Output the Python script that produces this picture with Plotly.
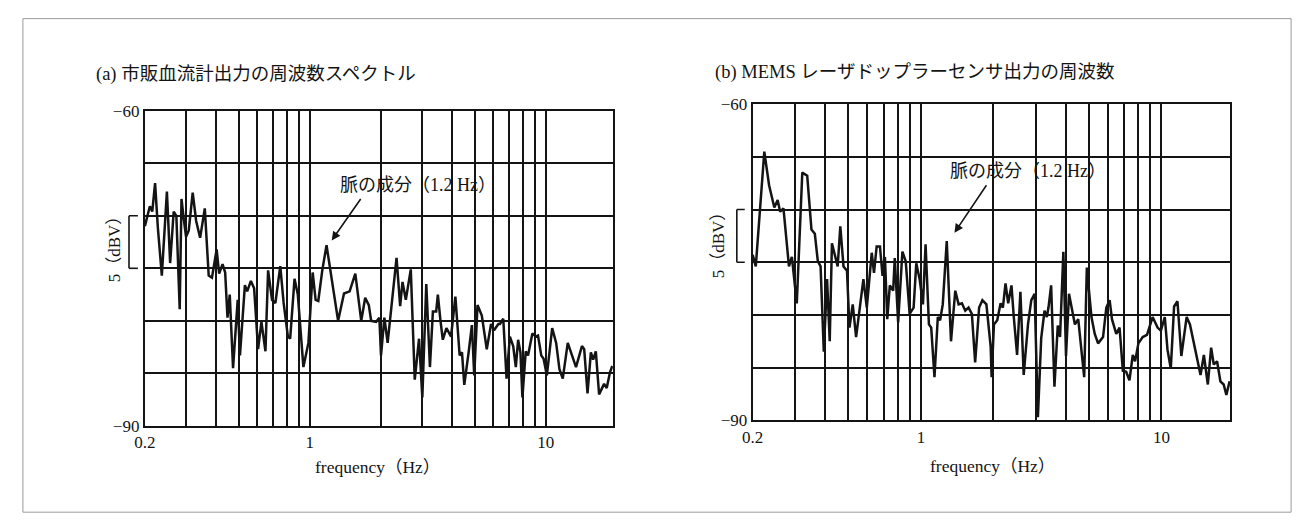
import numpy as np
import plotly.graph_objects as go

# ---------------- data ----------------
freq_a = [0.200, 0.2045, 0.210, 0.215, 0.221, 0.227, 0.236, 0.248, 0.256, 0.265,
          0.272, 0.281, 0.286, 0.292, 0.299, 0.307, 0.319, 0.330, 0.343, 0.359,
          0.373, 0.385, 0.403, 0.413, 0.427, 0.438, 0.448, 0.458, 0.473, 0.495,
          0.506, 0.531, 0.543, 0.563, 0.581, 0.604, 0.624, 0.649, 0.666, 0.692,
          0.715, 0.750, 0.775, 0.808, 0.826, 0.862, 0.890, 0.940, 0.987, 1.029,
          1.059, 1.087, 1.130, 1.178, 1.245, 1.319, 1.397, 1.476, 1.560, 1.653,
          1.718, 1.780, 1.821, 1.911, 1.973, 2.005, 2.072, 2.139, 2.223, 2.333,
          2.417, 2.473, 2.554, 2.681, 2.787, 2.906, 3.001, 3.119, 3.232, 3.327,
          3.436, 3.492, 3.583, 3.665, 3.797, 3.972, 4.143, 4.320, 4.419, 4.520,
          4.715, 4.869, 4.980, 5.143, 5.363, 5.629, 5.870, 6.043, 6.302, 6.402,
          6.612, 6.829, 7.053, 7.284, 7.474, 7.645, 7.819, 7.972, 8.233, 8.421,
          8.784, 9.072, 9.279, 9.583, 9.802, 10.12, 10.66, 11.08, 11.44, 11.82,
          12.41, 12.93, 13.45, 14.25, 14.57, 15.05, 15.55, 15.90, 16.32, 16.85,
          17.29, 17.69, 18.15, 18.74, 19.17]
db_a = [-71.0, -70.0, -69.1, -69.6, -66.9, -71.1, -75.7, -67.7, -74.5, -69.6,
        -70.0, -78.9, -68.4, -70.2, -72.0, -71.4, -67.8, -70.5, -72.1, -69.3,
        -75.7, -75.9, -73.2, -75.5, -74.6, -75.4, -79.7, -77.5, -84.5, -78.0,
        -83.3, -76.6, -77.2, -76.2, -76.9, -82.7, -80.1, -82.9, -75.2, -78.0,
        -78.3, -74.8, -78.3, -81.5, -81.7, -76.0, -77.5, -84.4, -82.1, -75.4,
        -78.0, -78.1, -75.2, -72.8, -76.3, -80.0, -77.4, -77.2, -75.5, -80.0,
        -77.8, -78.5, -80.0, -80.1, -79.7, -83.3, -79.7, -82.1, -78.5, -74.0,
        -78.6, -76.3, -78.0, -75.1, -85.6, -81.7, -87.3, -76.5, -84.4, -79.1,
        -79.1, -77.5, -80.0, -81.8, -80.7, -81.5, -77.7, -83.3, -83.0, -86.1,
        -83.0, -80.4, -85.2, -78.5, -79.5, -82.7, -80.3, -80.9, -80.3, -80.3,
        -79.8, -85.5, -81.5, -82.4, -84.4, -81.8, -83.0, -87.3, -82.9, -83.3,
        -81.2, -81.5, -81.4, -83.3, -83.6, -85.2, -80.7, -82.1, -84.6, -85.5,
        -82.1, -83.3, -84.4, -82.4, -82.7, -86.9, -83.0, -83.7, -82.9, -87.0,
        -86.4, -86.0, -86.4, -84.9, -84.3]

freq_b = [0.200, 0.206, 0.2235, 0.234, 0.246, 0.254, 0.260, 0.2685, 0.283, 0.291,
          0.305, 0.3215, 0.337, 0.351, 0.3625, 0.373, 0.383, 0.395, 0.4075, 0.418,
          0.427, 0.451, 0.4625, 0.477, 0.493, 0.505, 0.521, 0.538, 0.577, 0.596,
          0.625, 0.6385, 0.655, 0.676, 0.693, 0.709, 0.725, 0.743, 0.767, 0.779,
          0.8045, 0.838, 0.865, 0.898, 0.933, 0.957, 0.988, 1.020, 1.046, 1.080,
          1.104, 1.139, 1.176, 1.202, 1.233, 1.281, 1.334, 1.390, 1.435, 1.481,
          1.529, 1.578, 1.629, 1.681, 1.746, 1.802, 1.872, 1.950, 1.968, 2.012,
          2.077, 2.144, 2.192, 2.248, 2.306, 2.380, 2.433, 2.511, 2.592, 2.675,
          2.787, 2.877, 2.970, 3.064, 3.163, 3.265, 3.338, 3.391, 3.478, 3.590,
          3.706, 3.788, 3.910, 4.010, 4.126, 4.258, 4.367, 4.508, 4.624, 4.772,
          4.894, 5.116, 5.280, 5.450, 5.715, 5.898, 6.088, 6.225, 6.486, 6.694,
          6.909, 7.131, 7.360, 7.597, 7.768, 8.017, 8.353, 8.704, 9.184, 9.632,
          9.941, 10.32, 10.59, 10.93, 11.28, 11.65, 12.09, 12.72, 13.13, 13.64,
          14.08, 14.53, 15.00, 15.58, 16.08, 16.49, 17.02, 17.57, 18.13, 18.60, 19.19]
db_b = [-74.3, -75.4, -64.5, -67.7, -69.8, -69.1, -70.2, -69.9, -75.4, -74.5,
        -78.9, -66.5, -66.8, -71.9, -72.3, -74.9, -75.4, -83.5, -76.6, -82.5,
        -73.2, -75.4, -71.6, -75.4, -75.8, -81.2, -79.0, -82.1, -76.6, -79.3,
        -74.1, -76.0, -73.5, -73.5, -76.3, -74.5, -80.4, -77.2, -77.7, -74.6,
        -80.7, -74.0, -74.9, -79.9, -79.3, -75.1, -76.6, -79.0, -73.3, -80.9,
        -81.2, -85.9, -80.2, -80.5, -79.0, -73.0, -82.5, -77.7, -79.0, -78.9,
        -79.6, -79.3, -79.9, -84.5, -79.3, -78.6, -79.0, -83.0, -85.9, -80.9,
        -80.5, -78.9, -79.3, -77.0, -78.9, -77.2, -80.2, -83.8, -77.8, -85.7,
        -80.9, -78.6, -78.0, -89.7, -82.2, -79.6, -80.2, -79.3, -77.2, -86.8,
        -81.0, -82.1, -74.0, -83.9, -78.0, -79.6, -80.9, -80.4, -83.0, -85.9,
        -75.5, -80.2, -81.8, -82.7, -82.1, -79.3, -78.6, -80.4, -81.8, -81.2,
        -85.3, -85.4, -86.2, -83.8, -84.4, -82.7, -82.1, -81.9, -80.2, -81.2,
        -81.5, -80.2, -83.3, -85.1, -79.2, -78.7, -83.9, -80.2, -80.9, -82.7,
        -83.9, -85.7, -83.8, -86.6, -83.1, -84.7, -84.4, -86.3, -86.6, -87.6, -86.3]

x_tickvals = [0.2, 0.3, 0.4, 0.5, 0.6, 0.7, 0.8, 0.9, 1, 2, 3, 4, 5, 6, 7, 8, 9, 10]
x_labels = {0.2: "0.2", 1: "1", 10: "10"}
x_ticktext = [x_labels.get(v, "") for v in x_tickvals]
y_tickvals = [-90, -85, -80, -75, -70, -65, -60]
y_ticktext = ["\u221290", "", "", "", "", "", "\u221260"]

title_a = "(a) 市販血流計出力の周波数スペクトル"
title_b = "(b) MEMS レーザドップラーセンサ出力の周波数"
pulse_label = "脈の成分（1.2 Hz）"
x_title = "frequency（Hz）"
y_title = "5（dBV）"

# ---------------- figure ----------------
W, H = 1303, 527
SERIF = "Liberation Serif, Noto Sans CJK JP, serif"
INK = "#141414"


def px(x):
    return x / W


def py(y):
    return 1 - y / H


fig = go.Figure()
fig.add_trace(go.Scatter(x=freq_a, y=db_a, mode="lines", xaxis="x", yaxis="y",
                         line=dict(color=INK, width=2.5), showlegend=False, hoverinfo="skip"))
fig.add_trace(go.Scatter(x=freq_b, y=db_b, mode="lines", xaxis="x2", yaxis="y2",
                         line=dict(color=INK, width=2.5), showlegend=False, hoverinfo="skip"))

common = dict(showgrid=True, gridcolor=INK, gridwidth=1.9, showline=True, linecolor=INK,
              linewidth=2, mirror=True, zeroline=False, ticks="",
              tickfont=dict(family=SERIF, size=17, color=INK), fixedrange=True)

fig.update_layout(
    width=W, height=H, margin=dict(l=0, r=0, t=0, b=0),
    paper_bgcolor="white", plot_bgcolor="white", showlegend=False,
    xaxis=dict(type="log", range=[np.log10(0.2), 1.285], domain=[px(135), px(607)], anchor="y",
               tickvals=x_tickvals, ticktext=x_ticktext, **common),
    yaxis=dict(range=[-90, -60], domain=[py(432.5), py(105.5)], anchor="x",
               tickvals=y_tickvals, ticktext=y_ticktext, **common),
    xaxis2=dict(type="log", range=[np.log10(0.2), 1.286], domain=[px(748), px(1229.7)], anchor="y2",
                tickvals=x_tickvals, ticktext=x_ticktext, **common),
    yaxis2=dict(range=[-90, -60], domain=[py(426.7), py(98.7)], anchor="x2",
                tickvals=y_tickvals, ticktext=y_ticktext, **common),
)

ann = []
font_lbl = dict(family=SERIF, size=17, color=INK)
font_ttl = dict(family=SERIF, size=18.5, color=INK)
font_ax = dict(family=SERIF, size=17.5, color=INK)
font_pulse = dict(family=SERIF, size=18, color=INK)
# panel titles
ann.append(dict(xref="paper", yref="paper", x=px(84), y=py(68), text=title_a, showarrow=False,
                xanchor="left", yanchor="middle", font=font_ttl))
ann.append(dict(xref="paper", yref="paper", x=px(708), y=py(66), text=title_b, showarrow=False,
                xanchor="left", yanchor="middle", font=font_ttl))
# axis titles
ann.append(dict(xref="paper", yref="paper", x=px(370), y=py(475), text=x_title, showarrow=False,
                xanchor="center", yanchor="middle", font=font_ax))
ann.append(dict(xref="paper", yref="paper", x=px(990), y=py(474), text=x_title, showarrow=False,
                xanchor="center", yanchor="middle", font=font_ax))
ann.append(dict(xref="paper", yref="paper", x=px(104), y=py(245), text=y_title, showarrow=False,
                textangle=-90, xanchor="center", yanchor="middle", font=font_lbl))
ann.append(dict(xref="paper", yref="paper", x=px(713), y=py(240), text=y_title, showarrow=False,
                textangle=-90, xanchor="center", yanchor="middle", font=font_lbl))

# pulse-component arrows, pointed at the spectral peak near 1.2 Hz
for fr, db, xa, ya, dx, dy, axp, ayp, tx, ty in [
        (freq_a, db_a, "x", "y", 0.022, 0.45, 30, -43, 410, 183),
        (freq_b, db_b, "x2", "y2", 0.032, 0.8, 33, -49, 1026, 168)]:
    fa = np.array(fr)
    da = np.array(db)
    m = (fa > 1.0) & (fa < 1.5)
    i = np.argmax(np.where(m, da, -999))
    ann.append(dict(xref=xa, yref=ya, x=np.log10(fa[i]) + dx, y=da[i] + dy, text="",
                    showarrow=True, ax=axp, ay=ayp, arrowhead=2, arrowsize=1.1,
                    arrowwidth=1.6, arrowcolor=INK, standoff=0))
    ann.append(dict(xref="paper", yref="paper", x=px(tx), y=py(ty), text=pulse_label,
                    showarrow=False, xanchor="center", yanchor="middle", font=font_pulse))

fig.update_layout(annotations=ann)

# scale brackets for "5 (dBV)"
shapes = []
for yref, xv, xh in [("y", 119, 128), ("y2", 732, 740)]:
    shapes.append(dict(type="line", xref="paper", yref=yref, x0=px(xv), x1=px(xv), y0=-70, y1=-75,
                       line=dict(color=INK, width=1.6)))
    for yv in (-70, -75):
        shapes.append(dict(type="line", xref="paper", yref=yref, x0=px(xv), x1=px(xh), y0=yv, y1=yv,
                           line=dict(color=INK, width=1.6)))
# outer frame of the figure
shapes.append(dict(type="rect", xref="paper", yref="paper", x0=px(12), x1=px(1291), y0=py(522), y1=py(10),
                   line=dict(color="#9a9a9a", width=1)))
fig.update_layout(shapes=shapes)

fig.write_html("out.html")
